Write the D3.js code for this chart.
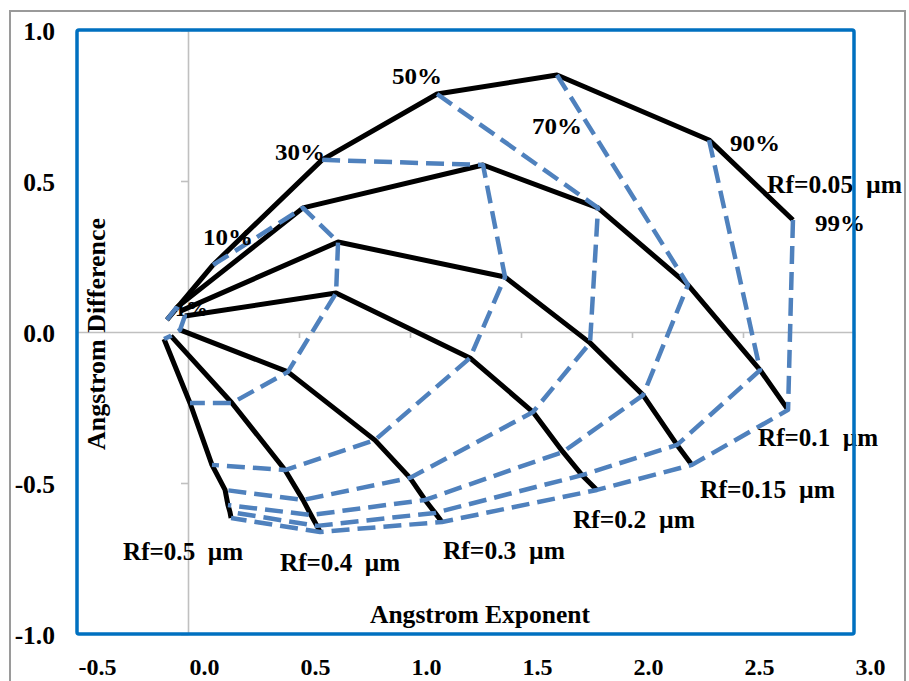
<!DOCTYPE html>
<html>
<head>
<meta charset="utf-8">
<script src="https://cdn.jsdelivr.net/npm/d3@7"></script>
<style>
  html, body { margin: 0; padding: 0; background: #fff; }
  svg text { font-family: "Liberation Serif", "Times New Roman", serif; font-weight: bold; fill: #000; }
</style>
</head>
<body>
<svg id="chart" width="909" height="681"></svg>
<script>
// Fine-mode radius (µm) of each solid curve
const radii = ["0.05", "0.1", "0.15", "0.2", "0.3", "0.4", "0.5"];
// Fine-mode fraction of each dashed curve
const fractions = ["1%", "10%", "30%", "50%", "70%", "90%", "99%"];

// Angstrom exponent, one row per radius, one column per fraction
const angstromExponent = [
  [-0.095, 0.113, 0.604, 1.122, 1.662, 2.347, 2.725],
  [-0.054, 0.518, 1.329, 1.847, 2.252, 2.577, 2.703],
  [-0.032, 0.676, 1.428, 1.811, 2.050, 2.203, 2.270],
  [-0.014, 0.667, 1.270, 1.554, 1.689, 1.775, 1.842],
  [-0.036, 0.450, 0.842, 1.000, 1.068, 1.113, 1.144],
  [-0.077, 0.198, 0.437, 0.518, 0.554, 0.581, 0.595],
  [-0.108, 0.009, 0.108, 0.167, 0.180, 0.189, 0.194]
];
// Angstrom difference, same layout
const angstromDifference = [
  [0.040, 0.222, 0.570, 0.788, 0.851, 0.636, 0.371],
  [0.079, 0.411, 0.553, 0.411, 0.156, -0.126, -0.258],
  [0.070, 0.298, 0.182, -0.036, -0.209, -0.374, -0.440],
  [0.053, 0.129, -0.086, -0.265, -0.397, -0.474, -0.523],
  [0.007, -0.132, -0.358, -0.483, -0.556, -0.599, -0.629],
  [-0.013, -0.235, -0.457, -0.556, -0.606, -0.642, -0.662],
  [-0.023, -0.235, -0.440, -0.523, -0.573, -0.596, -0.616]
];

const xTicks = [-0.5, 0.0, 0.5, 1.0, 1.5, 2.0, 2.5, 3.0];
const yTicks = [-1.0, -0.5, 0.0, 0.5, 1.0];

const svg = d3.select("#chart");
const x = d3.scaleLinear().domain([-0.5, 3]).range([77, 854]);
const y = d3.scaleLinear().domain([-1, 1]).range([634, 30]);

const pt = (r, f) => [x(angstromExponent[r][f]), y(angstromDifference[r][f])];

// outer frame
svg.append("rect")
  .attr("x", 10).attr("y", 11).attr("width", 895).attr("height", 690)
  .attr("fill", "none").attr("stroke", "#9a9a9a").attr("stroke-width", 2);

// zero-crossing axes
const grayAxis = g => g.call(s => s.selectAll("path,line").attr("stroke", "#c0c0c0").attr("stroke-width", 1.6));
svg.append("g")
  .attr("transform", `translate(${x(0)},0)`)
  .call(d3.axisLeft(y).tickValues([-1, -0.5, 0.5, 1]).tickSize(7).tickFormat(""))
  .call(grayAxis);
svg.append("g")
  .attr("transform", `translate(0,${y(0)})`)
  .call(d3.axisBottom(x).tickValues(xTicks.filter(v => v > -0.5 && v < 3)).tickSize(6).tickFormat(""))
  .call(grayAxis);

// label near the 1% corner (sits underneath the curves)
const p1 = pt(0, 0);
svg.append("text").attr("x", p1[0] + 8).attr("y", p1[1] - 4)
  .attr("font-size", 22).text(fractions[0]);

const line = d3.line().x(d => d[0]).y(d => d[1]);

// solid curves: constant radius
svg.append("g").selectAll("path")
  .data(radii.map((_, r) => fractions.map((_, f) => pt(r, f))))
  .join("path")
  .attr("d", line)
  .attr("fill", "none")
  .attr("stroke", "#000")
  .attr("stroke-width", 5)
  .attr("stroke-linejoin", "round");

// dashed curves: constant fraction
svg.append("g").selectAll("path")
  .data(fractions.map((_, f) => radii.map((_, r) => pt(r, f))))
  .join("path")
  .attr("d", line)
  .attr("fill", "none")
  .attr("stroke", "#4f81bd")
  .attr("stroke-width", 4.5)
  .attr("stroke-dasharray", "18,8")
  .attr("stroke-linejoin", "round");

// fraction labels beside the Rf=0.05 curve (center offsets in px)
const fracOffsets = [null, [15, -28, 50], [-22, -8, 50], [-20, -18, 50], [0, 51, 50], [46, 3, 50], [47, 3, 50]];
fractions.forEach((lab, f) => {
  const o = fracOffsets[f];
  if (!o) return;
  const p = pt(0, f);
  svg.append("text")
    .attr("x", p[0] + o[0]).attr("y", p[1] + o[1] + 8)
    .attr("text-anchor", "middle")
    .attr("font-size", 24)
    .attr("textLength", o[2]).attr("lengthAdjust", "spacingAndGlyphs")
    .text(lab);
});

// radius labels near the 99% end of each curve (left x, center y offsets, width)
const rfOffsets = [[-26, -35, 135], [-30, 28, 120], [8, 25, 135], [-24, 30, 122], [1, 29, 122], [-40, 31, 120], [-108, 34, 120]];
radii.forEach((rf, r) => {
  const p = pt(r, 6);
  const o = rfOffsets[r];
  svg.append("text")
    .attr("x", p[0] + o[0]).attr("y", p[1] + o[1] + 8)
    .attr("font-size", 25)
    .attr("textLength", o[2]).attr("lengthAdjust", "spacingAndGlyphs")
    .text(`Rf=${rf}\u00a0\u00a0\u00b5m`);
});

// axis titles
svg.append("text")
  .attr("x", 480).attr("y", 623)
  .attr("text-anchor", "middle")
  .attr("font-size", 25)
  .attr("textLength", 220).attr("lengthAdjust", "spacingAndGlyphs")
  .text("Angstrom Exponent");
svg.append("text")
  .attr("transform", "translate(105,334) rotate(-90)")
  .attr("text-anchor", "middle")
  .attr("font-size", 25)
  .attr("textLength", 232).attr("lengthAdjust", "spacingAndGlyphs")
  .text("Angstrom Difference");

// plot border
svg.append("rect")
  .attr("x", 77).attr("y", 30).attr("width", 777).attr("height", 604)
  .attr("rx", 2)
  .attr("fill", "none").attr("stroke", "#0070c0").attr("stroke-width", 3.5);

// tick labels
const fmt = d => d.toFixed(1);
svg.append("g")
  .attr("transform", "translate(55,1)")
  .call(d3.axisLeft(y).tickValues(yTicks).tickSize(0).tickPadding(0).tickFormat(fmt))
  .call(g => g.select(".domain").remove())
  .call(g => g.selectAll("text")
    .attr("font-size", 25.5).attr("font-family", null).attr("fill", "#000"));
svg.append("g")
  .attr("transform", "translate(1,675)")
  .call(d3.axisBottom(x).tickValues(xTicks).tickSize(0).tickPadding(0).tickFormat(fmt))
  .call(g => g.select(".domain").remove())
  .call(g => g.selectAll("text")
    .attr("y", 0).attr("dy", 0)
    .attr("text-anchor", "start")
    .attr("font-size", 24).attr("font-family", null).attr("fill", "#000"));
svg.selectAll(".tick text").style("font-family", '"Liberation Serif", "Times New Roman", serif').style("font-weight", "bold");
</script>
</body>
</html>
